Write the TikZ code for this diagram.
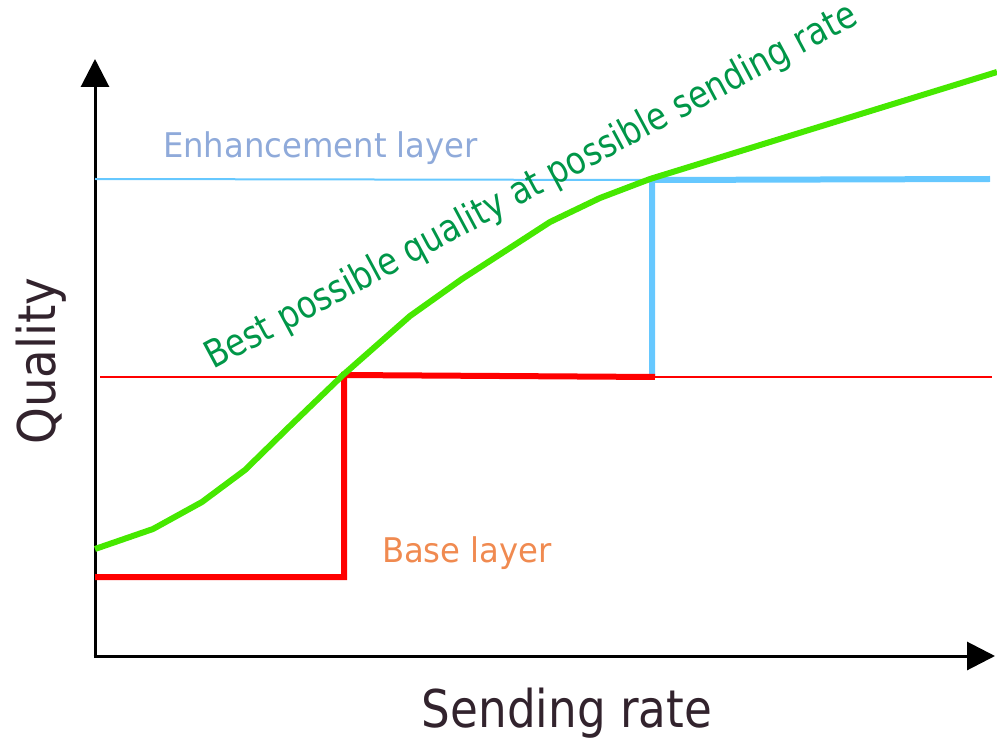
\documentclass[tikz,border=0pt]{standalone}
\usepackage{fontspec}
\setmainfont{DejaVu Sans}
\usetikzlibrary{arrows.meta}

\definecolor{axistext}{RGB}{50,35,45}
\definecolor{enhtext}{RGB}{143,170,218}
\definecolor{basetext}{RGB}{240,138,80}
\definecolor{curvetext}{RGB}{0,150,72}
\definecolor{curvegreen}{RGB}{70,232,0}
\definecolor{layerblue}{RGB}{102,200,255}
\definecolor{layerred}{RGB}{255,0,0}

\tikzset{
  axis/.style={line width=3pt, -{Triangle[width=28pt,length=28pt]}},
  thinlevel/.style={line width=2pt},
  thicklevel/.style={line width=6pt, line join=miter},
  label/.style={inner sep=0pt, outer sep=0pt}
}

\begin{document}
\begin{tikzpicture}[x=1pt,y=-1pt]
  \useasboundingbox (0,0) rectangle (997,738);

  % axes
  \coordinate (ytip) at (95,59);
  \coordinate (xtip) at (995,656);
  \draw[axis] (95,657.5) -- (ytip);
  \draw[axis] (93.5,656) -- (xtip);

  % enhancement level
  \coordinate (enhL) at (95,179);
  \coordinate (enhM) at (652,180);
  \coordinate (enhR) at (990,179);
  \coordinate (enhB) at (652,378);
  \draw[thinlevel, layerblue] (enhL) -- (enhM);
  \draw[thicklevel, layerblue] (enhB) -- (enhM) -- (enhR);

  % base level
  \coordinate (baseL) at (100,377);
  \coordinate (baseR) at (992,377);
  \draw[thinlevel, layerred] (baseL) -- (baseR);
  \coordinate (b0) at (95,577);
  \coordinate (b1) at (344,577);
  \coordinate (b2) at (344,375);
  \coordinate (b3) at (655,377);
  \draw[thicklevel, layerred] (b0) -- (b1) -- (b2) -- (b3);

  % best achievable quality
  \draw[line width=6pt, curvegreen, line join=round]
    (95,549) -- (153,529) -- (202,502) -- (245,470) -- (290,426) -- (343,375)
    -- (410,316) -- (462,279) -- (550,222) -- (600,198) -- (650,179) -- (997,72);

  % labels
  \node[label, anchor=base, text=axistext, font=\fontsize{52}{60}\selectfont]
    (xlab) at (567,727) {\scalebox{0.87}[1]{Sending rate}};
  \node[label, anchor=base, rotate=90, text=axistext, font=\fontsize{52}{60}\selectfont]
    (ylab) at (56,361) {\scalebox{0.9}[1]{Quality}};
  \node[label, anchor=base west, text=enhtext, font=\fontsize{34}{40}\selectfont]
    (enh) at (163,158) {\scalebox{0.95}[1]{Enhancement layer}};
  \node[label, anchor=base west, text=basetext, font=\fontsize{34}{40}\selectfont]
    (base) at (382,562) {\scalebox{0.95}[1]{Base layer}};
  \node[label, anchor=base west, rotate=28.2, text=curvetext, font=\fontsize{38}{44}\selectfont]
    (best) at (213,370) {\scalebox{0.85}[1]{Best possible quality at possible sending rate}};
\end{tikzpicture}
\end{document}
